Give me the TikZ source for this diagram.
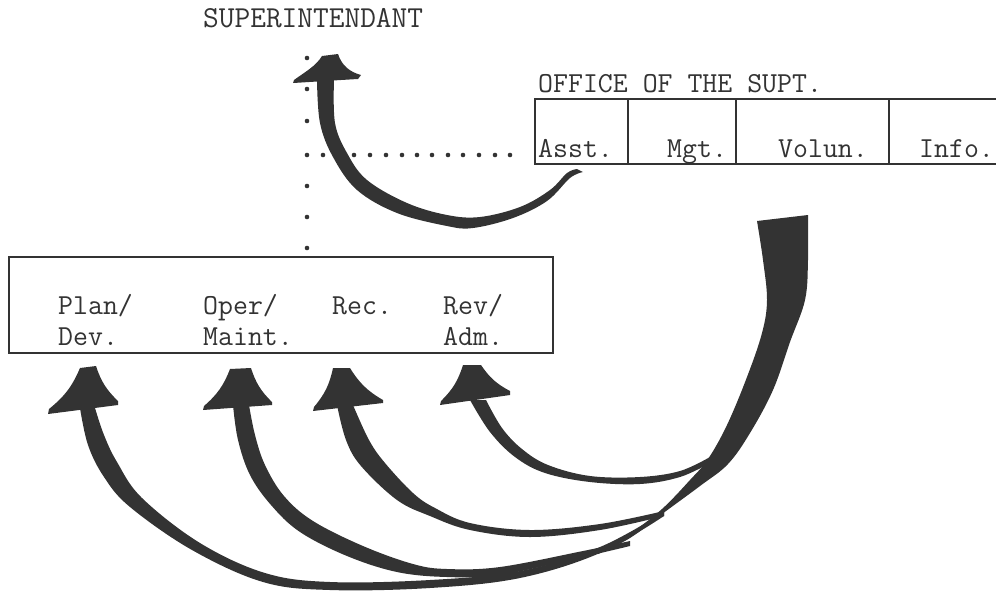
\documentclass[tikz,border=0pt]{standalone}
\usepackage{fontspec}
\definecolor{ink}{RGB}{51,51,51}
\begin{document}
\begin{tikzpicture}[x=1pt,y=-1pt,
  lbl/.style={anchor=base west,inner sep=0pt,text=ink,font=\ttfamily\fontsize{29}{31}\selectfont},
  frame/.style={draw=ink,line width=1.4pt},
  dotm/.style={fill=ink},
  shaft/.style={fill=ink},
  headf/.style={fill=ink}]
\useasboundingbox (0,0) rectangle (996,590);
% texts
\node[lbl,font=\ttfamily\fontsize{30.5}{32}\selectfont] (sup) at (203,27) {SUPERINTENDANT};
\node[lbl] (off) at (538,92) {OFFICE OF THE SUPT.};
\node[lbl] (asst) at (538,157) {Asst.};
\node[lbl] (mgt) at (667,157) {Mgt.};
\node[lbl] (volun) at (778,157) {Volun.};
\node[lbl] (info) at (919,157) {Info.};
\node[lbl] (plan) at (58,314) {Plan/};
\node[lbl] (dev) at (58,345) {Dev.};
\node[lbl] (oper) at (203,314) {Oper/};
\node[lbl] (maint) at (203,345) {Maint.};
\node[lbl] (rec) at (332,314) {Rec.};
\node[lbl] (rev) at (443,314) {Rev/};
\node[lbl] (adm) at (443,345) {Adm.};
% office frame
\draw[frame] (996,99) -- (535,99) -- (535,164) -- (996,164);
\foreach \x in {628,736,889} \draw[frame] (\x,99) -- (\x,164);
% division box
\draw[frame] (9,257) rectangle (553,353);
% dotted lines
\foreach \y in {58,89,121,155,186,217,248} \fill[dotm] (307,\y) circle (2.3);
\foreach \x in {323,338,354,370,386,402,417,432,448,463,479,495,510} \fill[dotm] (\x,155) circle (2.3);
% named arrow tips
\coordinate (tsup) at (330,55);
\coordinate (tplan) at (88,367);
\coordinate (toper) at (240,368);
\coordinate (trec) at (341,368);
\coordinate (trev) at (472,365);
% top arrow shaft
\fill[shaft] plot[smooth,tension=0.6] coordinates {(317,80) (320,123) (333,157) (357,190) (397,213) (447,226) (473,228) (513,218) (547,201) (570,178) (583,172)}
  -- plot[smooth,tension=0.6] coordinates {(577,169) (567,173) (550,190) (520,207) (480,217) (447,215) (407,203) (367,180) (347,153) (335,123) (334,80)} -- cycle;
\fill[headf] (322,56) -- (338,54) .. controls (342,66) and (350,72) .. (361,75) -- (358,79) .. controls (340,80) and (310,82) .. (293,83) -- (294,80) .. controls (305,72) and (316,66) .. (322,56) -- cycle;
% thick collecting stroke
\fill[shaft] plot[smooth,tension=0.6] coordinates {(808,215) (808,260) (805,300) (790,342) (773,390) (750,433) (728,464) (700,486) (662,514) (630,538) (598,554)}
  -- plot[smooth,tension=0.6] coordinates {(598,551) (632,532) (662,509) (690,480) (708,459) (727,425) (747,377) (762,333) (767,300) (763,260) (757,221)} -- cycle;
% Rev shaft
\fill[shaft] plot[smooth,tension=0.6] coordinates {(470,400) (490,432) (515,457) (545,473) (590,482) (640,484) (680,477) (710,463)}
  -- plot[smooth,tension=0.6] coordinates {(710,457) (680,471) (640,477) (590,476) (548,465) (522,449) (502,428) (486,400)} -- cycle;
% Rec shaft
\fill[shaft] plot[smooth,tension=0.6] coordinates {(337,405) (346,440) (361,466) (397,500) (430,516) (470,530) (530,537) (600,530) (664,516)}
  -- plot[smooth,tension=0.6] coordinates {(664,511) (600,524) (530,530) (470,523) (435,508) (413,493) (385,463) (369,440) (353,405)} -- cycle;
% Oper shaft
\fill[shaft] plot[smooth,tension=0.6] coordinates {(233,405) (238,440) (250,475) (271,505) (300,532) (347,556) (397,572) (447,577) (500,575) (583,557) (630,546)}
  -- plot[smooth,tension=0.6] coordinates {(630,541) (583,551) (500,567) (447,569) (413,564) (363,546) (313,521) (284,496) (265,465) (255,435) (249,405)} -- cycle;
% Plan shaft
\fill[shaft] plot[smooth,tension=0.6] coordinates {(80,408) (88,445) (104,477) (130,507) (192,550) (263,582) (330,590) (430,588) (520,578) (600,553) (664,516)}
  -- plot[smooth,tension=0.6] coordinates {(664,512) (600,547) (520,571) (430,580) (330,582) (265,573) (200,543) (142,498) (117,462) (104,435) (95,408)} -- cycle;
% lower arrowheads
\fill[headf] (80,368) -- (96,366) to[bend right=14] (118,401) -- (118,405) -- (48,414) -- (49,409) to[bend right=14] (80,368) -- cycle;
\fill[headf] (230,369) -- (251,368) to[bend right=14] (272,402) -- (272,405) -- (203,410) -- (204,406) to[bend right=14] (230,369) -- cycle;
\fill[headf] (333,368) -- (350,368) to[bend right=14] (383,400) -- (383,403) -- (313,411) -- (314,407) to[bend right=14] (333,368) -- cycle;
\fill[headf] (463,365) -- (481,365) to[bend right=14] (510,391) -- (510,395) -- (440,405) -- (441,401) to[bend right=14] (463,365) -- cycle;
\end{tikzpicture}
\end{document}
